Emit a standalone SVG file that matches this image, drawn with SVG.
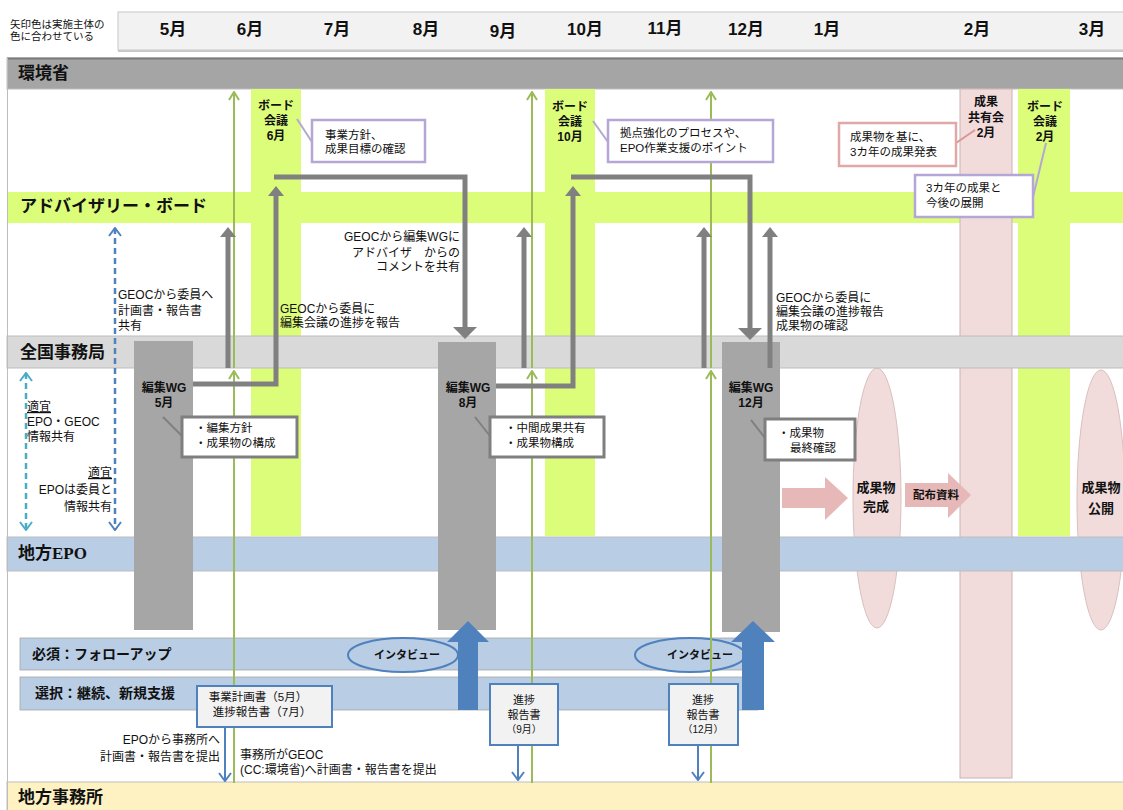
<svg xmlns="http://www.w3.org/2000/svg" width="1123" height="810" viewBox="0 0 1123 810">
<defs>
<style>
.t{font-family:"Liberation Sans","Noto Sans CJK JP",sans-serif;fill:#111}
.bl{font-size:17px;font-weight:bold}
.mo{font-size:17px;font-weight:bold;text-anchor:middle}
.s{font-size:12px}
.c{font-size:11.5px}
.cb{font-size:12px;font-weight:bold;text-anchor:middle}
.mid{text-anchor:middle}
.end{text-anchor:end}
.band{stroke:#bdbdbd;stroke-width:1}
.gline{fill:none;stroke:#808080;stroke-width:5;stroke-linejoin:miter}
.grn{fill:none;stroke:#9bbb59;stroke-width:2}
.lav{fill:#fff;stroke:#b4a7d6;stroke-width:2.5}
.gbox{fill:#fff;stroke:#7f7f7f;stroke-width:3}
.bbox{fill:#f2f2f2;stroke:#4f81bd;stroke-width:2}
.wg{fill:#a6a6a6}
.lime{fill:#dcfd7a}
.pink{fill:#f2dcdb}
</style>
<marker id="gh" viewBox="0 0 10 16" refX="0" refY="8" markerWidth="10" markerHeight="16" markerUnits="userSpaceOnUse" orient="auto"><path d="M0,0 L10,8 L0,16 z" fill="#808080"/></marker>
<marker id="ghb" viewBox="0 0 12 24" refX="0" refY="12" markerWidth="12" markerHeight="24" markerUnits="userSpaceOnUse" orient="auto"><path d="M0,0 L12,12 L0,24 z" fill="#808080"/></marker>
<marker id="gc" viewBox="0 0 10 12" refX="9" refY="6" markerWidth="10" markerHeight="12" markerUnits="userSpaceOnUse" orient="auto"><path d="M1,1 L9,6 L1,11" fill="none" stroke="#9bbb59" stroke-width="2"/></marker>
<marker id="bc" viewBox="0 0 10 14" refX="9" refY="7" markerWidth="10" markerHeight="14" markerUnits="userSpaceOnUse" orient="auto-start-reverse"><path d="M1,1 L9,7 L1,13" fill="none" stroke="#4f81bd" stroke-width="2"/></marker>
<marker id="tc" viewBox="0 0 10 14" refX="9" refY="7" markerWidth="10" markerHeight="14" markerUnits="userSpaceOnUse" orient="auto-start-reverse"><path d="M1,1 L9,7 L1,13" fill="none" stroke="#4bacc6" stroke-width="2"/></marker>
</defs>
<rect width="1123" height="810" fill="#fff"/>

<g id="header">
<text class="t" x="10" y="28" font-size="10.5" fill="#404040">矢印色は実施主体の</text>
<text class="t" x="10" y="40" font-size="10.5" fill="#404040">色に合わせている</text>
<rect x="118" y="12" width="1010" height="38" fill="#f2f2f2" stroke="#c8c8c8"/>
<line x1="118" y1="51" x2="1123" y2="51" stroke="#c8c8c8" stroke-width="2"/>
<text class="t mo" x="173" y="35">5月</text>
<text class="t mo" x="250" y="35">6月</text>
<text class="t mo" x="337" y="35">7月</text>
<text class="t mo" x="426" y="35">8月</text>
<text class="t mo" x="503" y="37">9月</text>
<text class="t mo" x="585" y="35">10月</text>
<text class="t mo" x="665" y="34">11月</text>
<text class="t mo" x="746" y="35">12月</text>
<text class="t mo" x="827" y="35">1月</text>
<text class="t mo" x="977" y="35">2月</text>
<text class="t mo" x="1092" y="35">3月</text>
</g>

<g id="lane-env">
<rect class="band" x="7" y="58" width="1120" height="31" fill="#a5a5a5"/>
<line x1="7" y1="58.5" x2="1123" y2="58.5" stroke="#7a7a7a" stroke-width="2"/>
<text class="t bl" x="18" y="79">環境省</text>
</g>

<g id="lane-advisory">
<rect class="lime" x="7" y="192" width="1120" height="31"/>
</g>

<g id="col-board-jun"><rect class="lime" x="251" y="89" width="50" height="447"/></g>
<g id="col-board-oct"><rect class="lime" x="545" y="89" width="50" height="447"/></g>
<g id="col-board-feb"><rect class="lime" x="1018" y="89" width="52" height="447"/></g>
<g id="col-share-feb"><rect class="pink" x="960" y="89" width="52" height="689" stroke="#c9b3b2" stroke-width="1"/></g>

<g id="label-advisory"><text class="t bl" x="20" y="212">アドバイザリー・ボード</text></g>

<g id="result-complete">
<ellipse cx="877" cy="498" rx="24" ry="130" fill="#f2dcdb" stroke="#d8c0bf" stroke-width="1"/>
</g>
<g id="result-publish">
<ellipse cx="1101" cy="500" rx="24" ry="130" fill="#f2dcdb" stroke="#d8c0bf" stroke-width="1"/>
</g>

<g id="lane-secretariat">
<rect class="band" x="7" y="336" width="1120" height="32" fill="#d9d9d9"/>
<text class="t bl" x="20" y="358">全国事務局</text>
</g>

<g id="lane-epo">
<rect class="band" x="7" y="537" width="1120" height="34" fill="#b9cde5"/>
<text class="t bl" x="18" y="559">地方<tspan font-family="'Liberation Serif',serif">EPO</tspan></text>
</g>

<g id="lane-office">
<rect class="band" x="7" y="782" width="1120" height="30" fill="#fef2c3"/>
<text class="t bl" x="18" y="803" font-size="18">地方事務所</text>
</g>
<line x1="7.5" y1="58" x2="7.5" y2="810" stroke="#bdbdbd"/>

<g id="bar-follow">
<rect x="20" y="638" width="738" height="32" fill="#b9cde5" stroke="#a6a6a6" stroke-width="0.8"/>
<text class="t" x="32" y="659" font-size="14" font-weight="bold">必須：フォローアップ</text>
</g>
<g id="bar-select">
<rect x="20" y="677" width="738" height="33" fill="#b9cde5" stroke="#a6a6a6" stroke-width="0.8"/>
<text class="t" x="35" y="698" font-size="14" font-weight="bold">選択：継続、新規支援</text>
</g>

<g id="interview-1">
<ellipse cx="403" cy="655" rx="55" ry="17" fill="#b9cde5" stroke="#4f81bd" stroke-width="2"/>
<text class="t mid" x="407" y="659" font-size="11" font-weight="bold">インタビュー</text>
</g>
<g id="interview-2">
<ellipse cx="690" cy="655" rx="55" ry="17" fill="#b9cde5" stroke="#4f81bd" stroke-width="2"/>
<text class="t mid" x="700" y="659" font-size="11" font-weight="bold">インタビュー</text>
</g>

<g id="wg-may">
<rect class="wg" x="134" y="341" width="59" height="289"/>
<text class="t cb" x="164" y="392">編集WG</text>
<text class="t cb" x="164" y="407">5月</text>
</g>
<g id="wg-aug">
<rect class="wg" x="438" y="342" width="58" height="288"/>
<text class="t cb" x="468" y="392">編集WG</text>
<text class="t cb" x="468" y="407">8月</text>
</g>
<g id="wg-dec">
<rect class="wg" x="722" y="342" width="58" height="290"/>
<text class="t cb" x="751" y="392">編集WG</text>
<text class="t cb" x="751" y="407">12月</text>
</g>

<g id="connectors">
<path class="grn" d="M234,783 V371" marker-end="url(#gc)"/>
<path class="grn" d="M234,368 V92" marker-end="url(#gc)"/>
<path class="grn" d="M532,783 V371" marker-end="url(#gc)"/>
<path class="grn" d="M532,368 V92" marker-end="url(#gc)"/>
<path class="grn" d="M711,783 V371" marker-end="url(#gc)"/>
<path class="grn" d="M711,368 V92" marker-end="url(#gc)"/>

<path class="gline" d="M228,368 V237" marker-end="url(#gh)"/>
<path class="gline" d="M524,368 V237" marker-end="url(#gh)"/>
<path class="gline" d="M704,368 V237" marker-end="url(#gh)"/>
<path class="gline" d="M770,368 V237" marker-end="url(#gh)"/>
<path class="gline" d="M193,384 H276 V196" marker-end="url(#gh)"/>
<path class="gline" d="M274,177 H465 V327" marker-end="url(#ghb)"/>
<path class="gline" d="M496,386 H573 V196" marker-end="url(#gh)"/>
<path class="gline" d="M571,177 H750 V328" marker-end="url(#ghb)"/>

<path d="M26,373 V530" fill="none" stroke="#4bacc6" stroke-width="2.5" stroke-dasharray="6,4" marker-start="url(#tc)" marker-end="url(#tc)"/>
<path d="M115,228 V530" fill="none" stroke="#4f81bd" stroke-width="2.5" stroke-dasharray="6,4" marker-start="url(#bc)" marker-end="url(#bc)"/>

<path d="M225,727 V781" fill="none" stroke="#4f81bd" stroke-width="2" marker-end="url(#bc)"/>
<path d="M518,745 V780" fill="none" stroke="#4f81bd" stroke-width="2" marker-end="url(#bc)"/>
<path d="M698,745 V780" fill="none" stroke="#4f81bd" stroke-width="2" marker-end="url(#bc)"/>

<polygon points="458,710 478,710 478,642 489,642 468,621 447,642 458,642" fill="#4f81bd"/>
<polygon points="742,710 764,710 764,642 775,642 753,621 731,642 742,642" fill="#4f81bd"/>

<polygon points="782,488 825,488 825,477 848,498 825,520 825,508 782,508" fill="#e6b9b8"/>
<g id="arrow-handout">
<polygon points="905,483 948,483 948,473 971,495 948,518 948,507 905,507" fill="#e6b9b8"/>
<text class="t mid" x="936" y="499" font-size="11.5" font-weight="bold">配布資料</text>
</g>

<line x1="297" y1="119" x2="312" y2="142" stroke="#b4a7d6" stroke-width="2"/>
<line x1="593" y1="121" x2="608" y2="142" stroke="#b4a7d6" stroke-width="2"/>
<line x1="956" y1="143" x2="975" y2="130" stroke="#d99694" stroke-width="2"/>
<line x1="1033" y1="197" x2="1046" y2="143" stroke="#b4a7d6" stroke-width="2"/>
<line x1="163" y1="417" x2="182" y2="436" stroke="#7f7f7f" stroke-width="2"/>
<line x1="475" y1="417" x2="490" y2="436" stroke="#7f7f7f" stroke-width="2"/>
<line x1="751" y1="420" x2="765" y2="438" stroke="#7f7f7f" stroke-width="2"/>
</g>

<g id="board-jun-label">
<text class="t cb" x="276" y="110">ボード</text>
<text class="t cb" x="276" y="125">会議</text>
<text class="t cb" x="276" y="140">6月</text>
</g>
<g id="board-oct-label">
<text class="t cb" x="570" y="111">ボード</text>
<text class="t cb" x="570" y="126">会議</text>
<text class="t cb" x="570" y="141">10月</text>
</g>
<g id="share-feb-label">
<text class="t cb" x="986" y="106">成果</text>
<text class="t cb" x="986" y="122">共有会</text>
<text class="t cb" x="986" y="137">2月</text>
</g>
<g id="board-feb-label">
<text class="t cb" x="1045" y="111">ボード</text>
<text class="t cb" x="1045" y="126">会議</text>
<text class="t cb" x="1045" y="141">2月</text>
</g>

<g id="note-policy">
<rect class="lav" x="312" y="120" width="113" height="42"/>
<text class="t c" x="325" y="139">事業方針、</text>
<text class="t c" x="325" y="153">成果目標の確認</text>
</g>
<g id="note-process">
<rect class="lav" x="608" y="120" width="165" height="42"/>
<text class="t c" x="620" y="137">拠点強化のプロセスや、</text>
<text class="t c" x="620" y="152">EPO作業支援のポイント</text>
</g>
<g id="note-present">
<rect x="839" y="123" width="117" height="43" fill="#fff" stroke="#e0a9a8" stroke-width="2.5"/>
<text class="t c" x="850" y="141">成果物を基に、</text>
<text class="t c" x="850" y="156">3カ年の成果発表</text>
</g>
<g id="note-future">
<rect class="lav" x="915" y="175" width="118" height="42"/>
<text class="t c" x="926" y="192">3カ年の成果と</text>
<text class="t c" x="926" y="207">今後の展開</text>
</g>
<g id="note-wg-may">
<rect class="gbox" x="182" y="417" width="115" height="40"/>
<text class="t c" x="195" y="432">・編集方針</text>
<text class="t c" x="195" y="447">・成果物の構成</text>
</g>
<g id="note-wg-aug">
<rect class="gbox" x="490" y="417" width="114" height="40"/>
<text class="t c" x="505" y="432">・中間成果共有</text>
<text class="t c" x="505" y="447">・成果物構成</text>
</g>
<g id="note-wg-dec">
<rect class="gbox" x="765" y="419" width="90" height="41"/>
<text class="t c" x="778" y="437">・成果物</text>
<text class="t c" x="790" y="452">最終確認</text>
</g>

<g id="label-geoc-wg">
<text class="t s end" x="460" y="241">GEOCから編集WGに</text>
<text class="t s end" x="460" y="257">アドバイザ　からの</text>
<text class="t s end" x="460" y="271">コメントを共有</text>
</g>
<g id="label-geoc-share">
<text class="t s" x="118" y="299">GEOCから委員へ</text>
<text class="t s" x="118" y="315">計画書・報告書</text>
<text class="t s" x="118" y="330">共有</text>
</g>
<g id="label-geoc-report">
<text class="t s" x="280" y="313">GEOCから委員に</text>
<text class="t s" x="280" y="327">編集会議の進捗を報告</text>
</g>
<g id="label-geoc-confirm">
<text class="t s" x="776" y="302">GEOCから委員に</text>
<text class="t s" x="776" y="316">編集会議の進捗報告</text>
<text class="t s" x="776" y="330">成果物の確認</text>
</g>
<g id="label-epo-geoc">
<text class="t s" x="27" y="411" text-decoration="underline">適宜</text>
<text class="t s" x="27" y="426">EPO・GEOC</text>
<text class="t s" x="27" y="441">情報共有</text>
</g>
<g id="label-epo-member">
<text class="t s end" x="112" y="477" text-decoration="underline">適宜</text>
<text class="t s end" x="112" y="494">EPOは委員と</text>
<text class="t s end" x="112" y="511">情報共有</text>
</g>

<g id="result-complete-label">
<text class="t mid" x="876" y="492" font-size="13" font-weight="bold">成果物</text>
<text class="t mid" x="876" y="511" font-size="13" font-weight="bold">完成</text>
</g>
<g id="result-publish-label">
<text class="t mid" x="1101" y="492" font-size="13" font-weight="bold">成果物</text>
<text class="t mid" x="1101" y="513" font-size="13" font-weight="bold">公開</text>
</g>

<g id="doc-plan">
<rect class="bbox" x="197" y="686" width="135" height="41"/>
<text class="t mid" x="258" y="701" font-size="11.5">事業計画書（5月）</text>
<text class="t mid" x="262" y="716" font-size="11.5">進捗報告書（7月）</text>
</g>
<g id="doc-sep">
<rect class="bbox" x="490" y="684" width="68" height="61"/>
<text class="t mid" x="524" y="704" font-size="11">進捗</text>
<text class="t mid" x="524" y="719" font-size="11">報告書</text>
<text class="t mid" x="524" y="733" font-size="10">（9月）</text>
</g>
<g id="doc-dec">
<rect class="bbox" x="669" y="684" width="69" height="61"/>
<text class="t mid" x="703" y="704" font-size="11">進捗</text>
<text class="t mid" x="703" y="719" font-size="11">報告書</text>
<text class="t mid" x="703" y="733" font-size="10">（12月）</text>
</g>

<g id="label-epo-office">
<text class="t s end" x="220" y="744">EPOから事務所へ</text>
<text class="t s end" x="220" y="761">計画書・報告書を提出</text>
</g>
<g id="label-office-geoc">
<text class="t s" x="240" y="759">事務所がGEOC</text>
<text class="t s" x="240" y="774">(CC:環境省)へ計画書・報告書を提出</text>
</g>
</svg>
